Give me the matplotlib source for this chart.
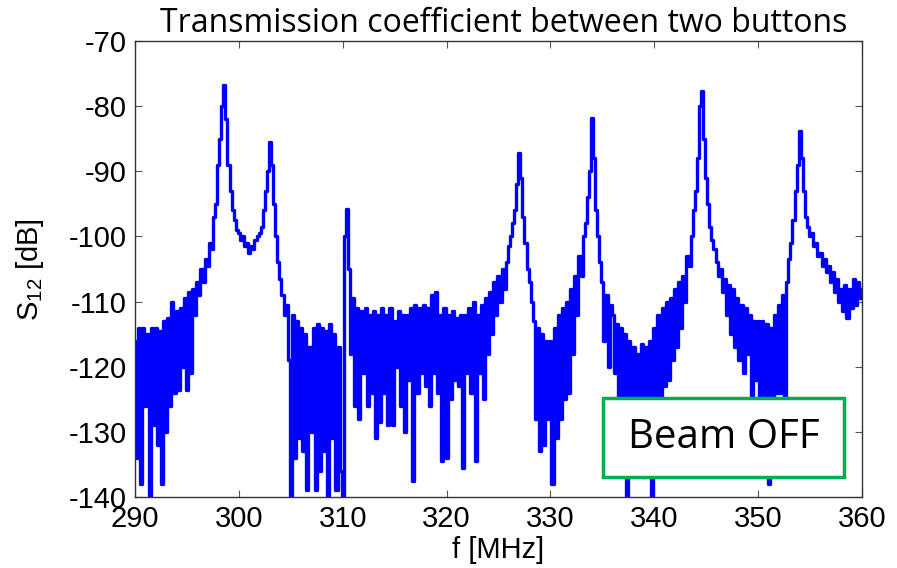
import numpy as np
import matplotlib
matplotlib.use("Agg")
import matplotlib.pyplot as plt
from matplotlib.patches import Rectangle

plt.rcParams['font.family'] = ['Liberation Sans', 'DejaVu Sans']
plt.rcParams['axes.unicode_minus'] = False

# S12, one value every 0.2 MHz from 290 to 360 MHz
s12_db = [
    -116, -134, -114, -138, -114, -126, -115, -140, -114, -129,       # 290
    -114, -132, -114.5, -138, -113, -130, -112.5, -126, -110, -124,   # 292
    -111.5, -123.5, -111, -120, -109.5, -123.5, -108.5, -121, -108, -112,  # 294
    -107, -109, -105, -107, -103.5, -104.5, -101, -102, -97, -95,     # 296
    -89, -85, -80, -76.7, -82, -89, -93, -96, -97.5, -99,             # 298
    -99.5, -100.5, -100, -101.5, -101, -102.5, -101.5, -102, -100.5, -100,  # 300
    -99.5, -98.5, -96, -93, -90, -85.5, -89, -95, -100, -104,         # 302
    -106.5, -109, -112, -110.5, -119, -140, -112, -134, -113, -131,   # 304
    -114, -133, -115, -139, -117, -130, -114, -139, -113.5, -136,     # 306
    -114, -133, -114.5, -140, -113.5, -131, -115, -139, -117, -136,   # 308
    -140, -100, -95.8, -105, -118, -109.5, -126, -111, -128, -111.5,  # 310
    -121, -111, -126, -112, -124, -111.5, -131, -112, -128.5, -111,   # 312
    -124, -112, -129, -111, -129, -113, -120, -111.5, -126, -112,     # 314
    -130, -112, -122, -111, -137.5, -110.5, -124, -111, -121, -110.5, # 316
    -123, -111, -126, -109, -121, -108.5, -124, -112, -134.5, -111,   # 318
    -134, -112, -125, -111.5, -122, -112.5, -123, -112, -135.5, -112, # 320
    -121, -111, -124, -110, -134.5, -112, -121, -110.5, -125, -109.5, # 322
    -118, -108.5, -115, -107, -112, -106, -110, -105, -108, -104,     # 324
    -101.5, -100, -98, -96, -92, -87.2, -91, -97, -101, -105,         # 326
    -107, -110, -113, -128, -114, -133, -115, -132, -116, -128,       # 328
    -116, -138, -114, -131, -112, -128, -111, -125, -110, -124,       # 330
    -108, -118, -106, -112, -103, -106, -100, -98, -94, -90,          # 332
    -81.8, -88, -96, -100, -104, -107, -116, -109, -120, -110.5,      # 334
    -112, -121, -113.5, -126, -114, -131, -115, -140, -116, -133,     # 336
    -117, -130, -118, -135, -116.5, -137, -117, -132, -116, -140,     # 338
    -114, -128, -112, -126, -111, -123, -110, -122, -109.5, -119,     # 340
    -108, -117, -107, -114, -106, -110, -103, -104.5, -100, -96,      # 342
    -93, -88, -80, -77.6, -85, -91, -95, -98.5, -100.5, -102,         # 344
    -104, -106, -105, -108.5, -106.5, -112, -107.5, -115, -108, -117, # 346
    -109.5, -119, -110.5, -121, -111, -118, -112, -126, -113, -122,   # 348
    -113, -128, -113, -125, -113.5, -138, -114, -127, -112, -124,     # 350
    -110.5, -124, -109, -125, -107, -103.5, -101, -97.5, -93, -89,    # 352
    -83.8, -88, -93, -97, -98.5, -100, -99.5, -101.5, -101, -103,     # 354
    -102.5, -104.5, -103.5, -105.5, -104.5, -107, -105.5, -108.5, -106.5, -110,  # 356
    -108, -111.5, -107.5, -112.5, -108, -111, -106.5, -110.5, -107, -109.5,      # 358
    -108,                                                             # 360
]
f_mhz = np.linspace(290, 360, len(s12_db))

x_ticks = [290, 300, 310, 320, 330, 340, 350, 360]
y_ticks = [-140, -130, -120, -110, -100, -90, -80, -70]

fig = plt.figure(figsize=(8.97, 5.68), dpi=100)
ax = fig.add_axes([0.1505, 0.125, 0.8105, 0.8028])

ax.plot(f_mhz, s12_db, color='#0000ff', lw=2.4, drawstyle='steps-mid')

ax.set_xlim(290, 360)
ax.set_ylim(-140, -70)
ax.set_xticks(x_ticks)
ax.set_yticks(y_ticks)
ax.tick_params(direction='in', length=5, width=0.8, top=True, right=True,
               labelsize=21, pad=6, colors='#555555', labelcolor='black')
for sp in ax.spines.values():
    sp.set_color('#333333')
    sp.set_linewidth(1.0)

ax.set_xlabel('f [MHz]', fontsize=21)
ax.xaxis.set_label_coords(0.5, -0.085)
ax.set_ylabel(r'S$_{\mathregular{12}}$ [dB]', fontsize=21)
ax.yaxis.set_label_coords(-0.122, 0.5)

fig.text(0.562, 0.944, 'Transmission coefficient between two buttons',
         fontsize=23, family=['Open Sans', 'DejaVu Sans'], ha='center', va='baseline')

# annotation box
fig.add_artist(Rectangle((603 / 897, 1 - 477 / 568), 241 / 897, 79 / 568,
                         transform=fig.transFigure, facecolor='white',
                         edgecolor='#00b050', lw=2.5, zorder=5))
fig.text(723.5 / 897, 1 - 438 / 568, 'Beam OFF', fontsize=29,
         family=['Open Sans', 'DejaVu Sans'], ha='center', va='center', zorder=6)

fig.savefig('out.png', dpi=100)
